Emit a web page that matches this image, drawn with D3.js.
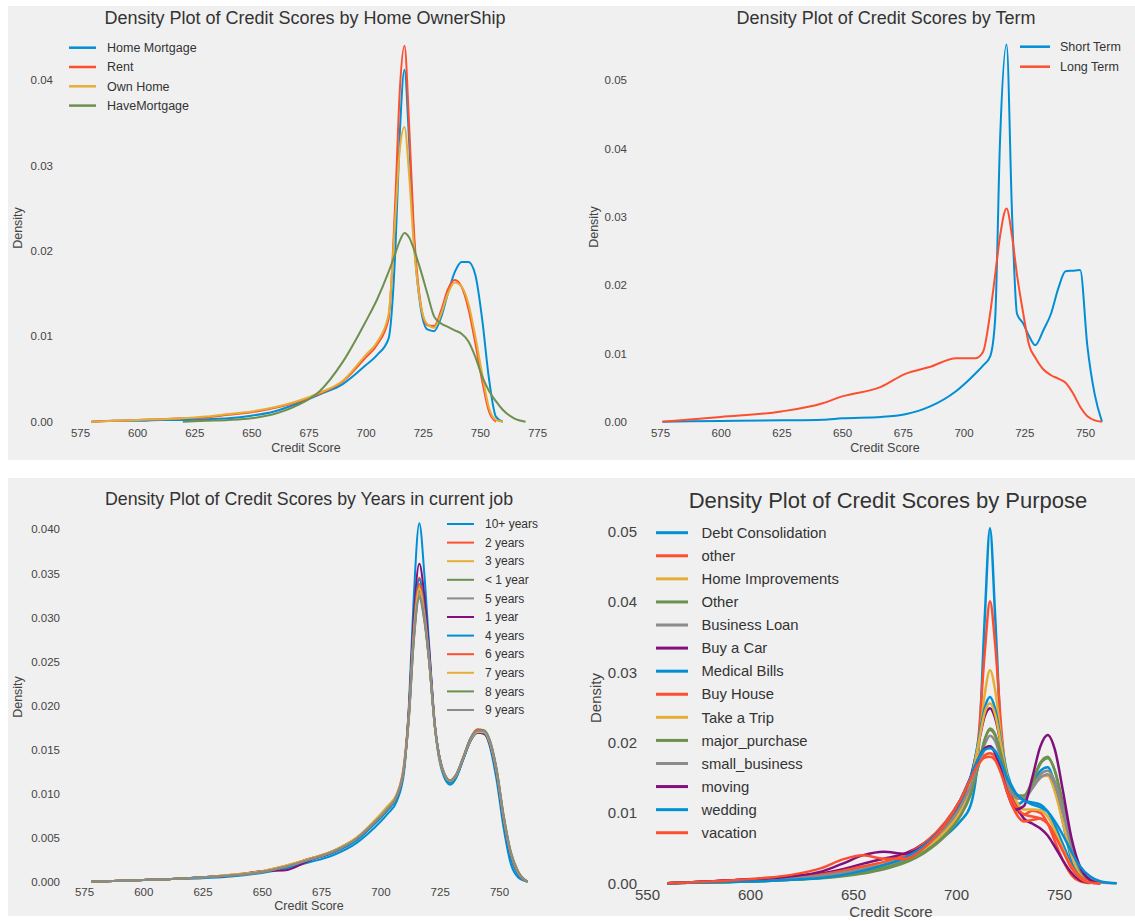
<!DOCTYPE html>
<html>
<head>
<meta charset="utf-8">
<script src="https://cdn.jsdelivr.net/npm/d3@7"></script>
<style>
  body { margin: 0; background: #ffffff; }
  svg { display: block; font-family: "Liberation Sans", Arial, Helvetica, sans-serif; }
</style>
</head>
<body>
<svg id="chart" width="1135" height="921"></svg>
<script>
// fivethirtyeight colour cycle
const palette = ["#008fd5", "#fc4f30", "#e5ae38", "#6d904f", "#8b8b8b", "#810f7c"];

// ---------- Home ownership ----------
const homeGrid = [580, 590, 600, 610, 620, 630, 640, 650, 660, 670, 680, 690, 700, 705, 710, 713, 715, 717, 719, 721, 724, 727, 730, 733, 736, 739, 742, 745, 748, 751, 754, 757, 760, 765, 770];
const homeNames = ["Home Mortgage", "Rent", "Own Home", "HaveMortgage"];
const homeMortgage = [0, 0.0001, 0.0001, 0.0002, 0.0002, 0.0003, 0.0004, 0.0007, 0.0012, 0.0021, 0.0032, 0.0044, 0.0066, 0.0078, 0.0097, 0.0200, 0.0340, 0.0412, 0.0330, 0.0220, 0.0135, 0.0108, 0.0106, 0.0122, 0.0150, 0.0175, 0.0187, 0.0187, 0.0172, 0.0120, 0.0050, 0.0006, 0, 0, 0];
const homeRent = [0, 0.0001, 0.0002, 0.0003, 0.0004, 0.0005, 0.0008, 0.0011, 0.0016, 0.0023, 0.0033, 0.0047, 0.0075, 0.0090, 0.0120, 0.0260, 0.0390, 0.0440, 0.0350, 0.0230, 0.0140, 0.0113, 0.0112, 0.0130, 0.0155, 0.0166, 0.0158, 0.0132, 0.0092, 0.0048, 0.0012, 0, 0, 0, 0];
const homeOwn = [0, 0.0001, 0.0002, 0.0003, 0.0004, 0.0006, 0.0009, 0.0012, 0.0017, 0.0024, 0.0034, 0.0048, 0.0078, 0.0093, 0.0125, 0.0240, 0.0320, 0.0345, 0.0290, 0.0210, 0.0138, 0.0114, 0.0110, 0.0126, 0.0150, 0.0163, 0.0158, 0.0138, 0.0100, 0.0056, 0.0016, 0.0002, 0, 0, 0];
const homeHaveMortgage = [0, 0, 0, 0, 0, 0.0001, 0.0002, 0.0004, 0.0009, 0.0019, 0.0036, 0.0070, 0.0117, 0.0143, 0.0175, 0.0197, 0.0212, 0.0221, 0.0216, 0.0203, 0.0178, 0.0150, 0.0123, 0.0115, 0.0111, 0.0107, 0.0103, 0.0094, 0.0076, 0.0053, 0.0036, 0.0024, 0.0014, 0.0004, 0];
const homeXTicks = [575, 600, 625, 650, 675, 700, 725, 750, 775];
const homeYTicks = [0, 0.01, 0.02, 0.03, 0.04];

// ---------- Term ----------
const termGrid = [576, 600, 625, 642, 650, 666, 676, 686, 697, 705, 708, 711, 713, 715, 717.7, 720, 722, 724.5, 727, 729.5, 733, 736, 739, 742, 745, 748, 751, 754, 757];
const termNames = ["Short Term", "Long Term"];
const termShort = [0, 0.0001, 0.0002, 0.0003, 0.0005, 0.0007, 0.0011, 0.0022, 0.0045, 0.0071, 0.0082, 0.0096, 0.0150, 0.0410, 0.0552, 0.0300, 0.0158, 0.0144, 0.0125, 0.0112, 0.0135, 0.0158, 0.0195, 0.0220, 0.0221, 0.0222, 0.0110, 0.0040, 0];
const termLong = [0, 0.0007, 0.0015, 0.0027, 0.0037, 0.0051, 0.0070, 0.0080, 0.0093, 0.0093, 0.0102, 0.0160, 0.0215, 0.0271, 0.0312, 0.0270, 0.0215, 0.0160, 0.0112, 0.0094, 0.0076, 0.0068, 0.0063, 0.0057, 0.0042, 0.0022, 0.0008, 0.0002, 0];
const termXTicks = [575, 600, 625, 650, 675, 700, 725, 750];
const termYTicks = [0, 0.01, 0.02, 0.03, 0.04, 0.05];

// ---------- Years in current job ----------
const jobGrid = [578, 590, 600, 612, 625, 637, 650, 660, 670, 680, 690, 697, 703, 707, 710, 712, 714, 716.4, 718.5, 720.5, 723, 726, 729.4, 732, 735, 738, 741, 743.5, 746, 749, 752, 755, 758, 762];
const jobNames = ["10+ years", "2 years", "3 years", "< 1 year", "5 years", "1 year", "4 years", "6 years", "7 years", "8 years", "9 years"];
const job10plus = [0, 0.0001, 0.0002, 0.0003, 0.0004, 0.0006, 0.0010, 0.0015, 0.0022, 0.0030, 0.0044, 0.0060, 0.0077, 0.0092, 0.0125, 0.0200, 0.0320, 0.0407, 0.0350, 0.0270, 0.0175, 0.0125, 0.0110, 0.0118, 0.0140, 0.0162, 0.0172, 0.0170, 0.0155, 0.0115, 0.0060, 0.0020, 0.0005, 0];
const job2 = [0, 0.0001, 0.0002, 0.0003, 0.0005, 0.0008, 0.0012, 0.0018, 0.0026, 0.0035, 0.0050, 0.0067, 0.0085, 0.0100, 0.0135, 0.0195, 0.0288, 0.0345, 0.0312, 0.0258, 0.0176, 0.0130, 0.0115, 0.0122, 0.0142, 0.0163, 0.0173, 0.0172, 0.0160, 0.0124, 0.0070, 0.0030, 0.0010, 0];
const job3 = [0, 0.0001, 0.0002, 0.0003, 0.0005, 0.0008, 0.0012, 0.0018, 0.0026, 0.0035, 0.0050, 0.0068, 0.0086, 0.0100, 0.0133, 0.0192, 0.0280, 0.0335, 0.0303, 0.0252, 0.0174, 0.0128, 0.0114, 0.0121, 0.0141, 0.0161, 0.0170, 0.0169, 0.0158, 0.0124, 0.0072, 0.0032, 0.0011, 0];
const jobUnder1 = [0, 0.0001, 0.0002, 0.0003, 0.0005, 0.0007, 0.0011, 0.0017, 0.0025, 0.0034, 0.0049, 0.0066, 0.0083, 0.0098, 0.0131, 0.0188, 0.0276, 0.0330, 0.0300, 0.0252, 0.0175, 0.0129, 0.0114, 0.0121, 0.0141, 0.0162, 0.0171, 0.0171, 0.0161, 0.0127, 0.0073, 0.0032, 0.0011, 0];
const job5 = [0, 0.0001, 0.0002, 0.0003, 0.0005, 0.0007, 0.0011, 0.0017, 0.0025, 0.0033, 0.0048, 0.0065, 0.0082, 0.0097, 0.0130, 0.0187, 0.0274, 0.0328, 0.0300, 0.0251, 0.0174, 0.0128, 0.0114, 0.0121, 0.0140, 0.0160, 0.0169, 0.0169, 0.0160, 0.0126, 0.0072, 0.0032, 0.0011, 0];
const job1 = [0, 0.0001, 0.0002, 0.0003, 0.0005, 0.0007, 0.0012, 0.0013, 0.0024, 0.0033, 0.0048, 0.0065, 0.0082, 0.0097, 0.0130, 0.0195, 0.0298, 0.0361, 0.0325, 0.0265, 0.0178, 0.0129, 0.0113, 0.0120, 0.0140, 0.0160, 0.0169, 0.0168, 0.0157, 0.0122, 0.0068, 0.0028, 0.0009, 0];
const job4 = [0, 0.0001, 0.0002, 0.0003, 0.0005, 0.0007, 0.0011, 0.0017, 0.0025, 0.0033, 0.0047, 0.0064, 0.0081, 0.0096, 0.0130, 0.0192, 0.0285, 0.0343, 0.0310, 0.0258, 0.0176, 0.0128, 0.0112, 0.0119, 0.0139, 0.0160, 0.0170, 0.0169, 0.0158, 0.0122, 0.0067, 0.0027, 0.0008, 0];
const job6 = [0, 0.0001, 0.0002, 0.0003, 0.0005, 0.0007, 0.0011, 0.0017, 0.0026, 0.0034, 0.0049, 0.0066, 0.0083, 0.0098, 0.0131, 0.0190, 0.0282, 0.0338, 0.0306, 0.0255, 0.0175, 0.0129, 0.0114, 0.0121, 0.0141, 0.0162, 0.0172, 0.0171, 0.0160, 0.0125, 0.0071, 0.0031, 0.0010, 0];
const job7 = [0, 0.0001, 0.0002, 0.0003, 0.0005, 0.0008, 0.0012, 0.0018, 0.0026, 0.0035, 0.0050, 0.0067, 0.0084, 0.0099, 0.0132, 0.0189, 0.0278, 0.0333, 0.0302, 0.0253, 0.0175, 0.0129, 0.0114, 0.0121, 0.0141, 0.0161, 0.0170, 0.0170, 0.0159, 0.0125, 0.0072, 0.0032, 0.0011, 0];
const job8 = [0, 0.0001, 0.0002, 0.0003, 0.0005, 0.0007, 0.0011, 0.0017, 0.0025, 0.0034, 0.0049, 0.0066, 0.0083, 0.0098, 0.0130, 0.0185, 0.0270, 0.0322, 0.0296, 0.0250, 0.0175, 0.0130, 0.0115, 0.0122, 0.0142, 0.0163, 0.0172, 0.0172, 0.0162, 0.0128, 0.0075, 0.0034, 0.0012, 0];
const job9 = [0, 0.0001, 0.0002, 0.0003, 0.0005, 0.0007, 0.0011, 0.0017, 0.0025, 0.0034, 0.0049, 0.0066, 0.0083, 0.0098, 0.0130, 0.0186, 0.0272, 0.0325, 0.0298, 0.0251, 0.0175, 0.0130, 0.0115, 0.0122, 0.0141, 0.0162, 0.0171, 0.0171, 0.0161, 0.0127, 0.0074, 0.0033, 0.0012, 0];
const jobXTicks = [575, 600, 625, 650, 675, 700, 725, 750];
const jobYTicks = [0, 0.005, 0.01, 0.015, 0.02, 0.025, 0.03, 0.035, 0.04];

// ---------- Purpose ----------
const purposeGrid = [560, 575, 590, 605, 620, 635, 645, 655, 665, 675, 685, 695, 702, 707, 711, 714, 716.5, 719, 722, 725, 729, 733, 737, 741, 744.5, 748, 752, 756, 760, 765, 770, 778];
const purposeNames = ["Debt Consolidation", "other", "Home Improvements", "Other", "Business Loan", "Buy a Car", "Medical Bills", "Buy House", "Take a Trip", "major_purchase", "small_business", "moving", "wedding", "vacation"];
const pDebt = [0, 0.0002, 0.0004, 0.0006, 0.0008, 0.0011, 0.0014, 0.0019, 0.0026, 0.0035, 0.0048, 0.0068, 0.0088, 0.0110, 0.0190, 0.0380, 0.0505, 0.0380, 0.0200, 0.0130, 0.0112, 0.0118, 0.0140, 0.0160, 0.0165, 0.0140, 0.0085, 0.0035, 0.0010, 0.0002, 0, 0];
const pOtherLower = [0, 0.0002, 0.0004, 0.0007, 0.0010, 0.0014, 0.0018, 0.0024, 0.0030, 0.0040, 0.0055, 0.0078, 0.0100, 0.0130, 0.0210, 0.0330, 0.0401, 0.0340, 0.0220, 0.0140, 0.0105, 0.0098, 0.0103, 0.0100, 0.0085, 0.0060, 0.0032, 0.0012, 0.0003, 0, 0, 0];
const pHomeImpr = [0, 0.0001, 0.0002, 0.0004, 0.0006, 0.0009, 0.0012, 0.0017, 0.0024, 0.0034, 0.0050, 0.0075, 0.0100, 0.0130, 0.0195, 0.0270, 0.0303, 0.0275, 0.0205, 0.0150, 0.0120, 0.0122, 0.0138, 0.0152, 0.0153, 0.0130, 0.0085, 0.0040, 0.0013, 0.0002, 0, 0];
const pOtherUpper = [0, 0.0001, 0.0002, 0.0003, 0.0005, 0.0008, 0.0011, 0.0016, 0.0022, 0.0032, 0.0048, 0.0072, 0.0098, 0.0128, 0.0170, 0.0205, 0.0218, 0.0210, 0.0180, 0.0148, 0.0125, 0.0125, 0.0145, 0.0172, 0.0180, 0.0160, 0.0110, 0.0055, 0.0020, 0.0004, 0, 0];
const pBusiness = [0, 0.0002, 0.0003, 0.0005, 0.0008, 0.0012, 0.0016, 0.0021, 0.0027, 0.0036, 0.0052, 0.0078, 0.0102, 0.0130, 0.0168, 0.0198, 0.0210, 0.0202, 0.0175, 0.0145, 0.0125, 0.0122, 0.0135, 0.0150, 0.0155, 0.0140, 0.0100, 0.0052, 0.0020, 0.0004, 0, 0];
const pCar = [0, 0.0002, 0.0004, 0.0006, 0.0009, 0.0014, 0.0020, 0.0028, 0.0035, 0.0042, 0.0058, 0.0085, 0.0115, 0.0150, 0.0200, 0.0238, 0.0249, 0.0235, 0.0195, 0.0150, 0.0112, 0.0092, 0.0085, 0.0078, 0.0068, 0.0052, 0.0032, 0.0015, 0.0005, 0.0001, 0, 0];
const pMedical = [0, 0.0001, 0.0002, 0.0004, 0.0006, 0.0010, 0.0014, 0.0020, 0.0028, 0.0038, 0.0055, 0.0082, 0.0110, 0.0145, 0.0205, 0.0250, 0.0265, 0.0248, 0.0200, 0.0155, 0.0128, 0.0118, 0.0115, 0.0112, 0.0102, 0.0082, 0.0055, 0.0028, 0.0010, 0.0002, 0, 0];
const pHouse = [0, 0.0002, 0.0004, 0.0006, 0.0009, 0.0013, 0.0018, 0.0024, 0.0030, 0.0040, 0.0058, 0.0088, 0.0118, 0.0145, 0.0170, 0.0182, 0.0185, 0.0180, 0.0160, 0.0135, 0.0110, 0.0098, 0.0095, 0.0092, 0.0085, 0.0070, 0.0048, 0.0025, 0.0010, 0.0002, 0, 0];
const pTrip = [0, 0.0001, 0.0002, 0.0004, 0.0007, 0.0010, 0.0014, 0.0020, 0.0027, 0.0036, 0.0050, 0.0075, 0.0102, 0.0140, 0.0200, 0.0243, 0.0256, 0.0240, 0.0195, 0.0150, 0.0118, 0.0105, 0.0105, 0.0104, 0.0095, 0.0075, 0.0048, 0.0022, 0.0008, 0.0001, 0, 0];
const pMajor = [0, 0.0001, 0.0002, 0.0003, 0.0005, 0.0007, 0.0010, 0.0014, 0.0020, 0.0029, 0.0044, 0.0068, 0.0095, 0.0125, 0.0168, 0.0205, 0.0220, 0.0212, 0.0182, 0.0148, 0.0122, 0.0120, 0.0142, 0.0170, 0.0178, 0.0160, 0.0112, 0.0058, 0.0022, 0.0005, 0, 0];
const pSmall = [0, 0.0002, 0.0003, 0.0005, 0.0007, 0.0011, 0.0015, 0.0020, 0.0026, 0.0035, 0.0052, 0.0080, 0.0108, 0.0138, 0.0170, 0.0190, 0.0195, 0.0188, 0.0165, 0.0140, 0.0122, 0.0120, 0.0135, 0.0155, 0.0160, 0.0145, 0.0105, 0.0058, 0.0024, 0.0006, 0.0001, 0];
const pMoving = [0, 0.0002, 0.0004, 0.0006, 0.0010, 0.0017, 0.0028, 0.0040, 0.0045, 0.0042, 0.0055, 0.0085, 0.0118, 0.0150, 0.0178, 0.0192, 0.0195, 0.0185, 0.0160, 0.0128, 0.0105, 0.0110, 0.0150, 0.0195, 0.0211, 0.0190, 0.0130, 0.0065, 0.0025, 0.0005, 0, 0];
const pWedding = [0, 0.0001, 0.0002, 0.0003, 0.0005, 0.0008, 0.0012, 0.0018, 0.0026, 0.0036, 0.0055, 0.0085, 0.0118, 0.0150, 0.0178, 0.0190, 0.0192, 0.0188, 0.0170, 0.0148, 0.0128, 0.0118, 0.0112, 0.0108, 0.0102, 0.0088, 0.0068, 0.0045, 0.0025, 0.0010, 0.0003, 0];
const pVacation = [0, 0.0002, 0.0004, 0.0007, 0.0012, 0.0022, 0.0034, 0.0040, 0.0035, 0.0035, 0.0052, 0.0085, 0.0118, 0.0148, 0.0170, 0.0179, 0.0180, 0.0175, 0.0155, 0.0128, 0.0100, 0.0088, 0.0090, 0.0092, 0.0085, 0.0068, 0.0045, 0.0022, 0.0008, 0.0001, 0, 0];
const purposeXTicks = [550, 600, 650, 700, 750];
const purposeYTicks = [0, 0.01, 0.02, 0.03, 0.04, 0.05];

// ---------- layout of the four axes ----------
const panels = [
  {
    title: "Density Plot of Credit Scores by Home OwnerShip",
    titleX: 305, titleY: 24, titleSize: 18,
    xDomain: [575, 775], xRange: [80, 537],
    yDomain: [0, 0.04], yRange: [421.7, 80],
    xTicks: homeXTicks, yTicks: homeYTicks, yFmt: ".2f",
    tickSize: 11.5, xPad: 7, yLabelRight: 53,
    xLabel: [306, 448], yLabel: [18, 228], labelSize: 12.5,
    grid: homeGrid, names: homeNames,
    values: [homeMortgage, homeRent, homeOwn, homeHaveMortgage],
    lineWidth: 2,
    legend: { x1: 69, x2: 96, tx: 107, y0: 47.7, dy: 19.3, size: 12.5, lw: 2.5 }
  },
  {
    title: "Density Plot of Credit Scores by Term",
    titleX: 886, titleY: 24, titleSize: 18,
    xDomain: [575, 750], xRange: [660, 1085],
    yDomain: [0, 0.05], yRange: [421.7, 80],
    xTicks: termXTicks, yTicks: termYTicks, yFmt: ".2f",
    tickSize: 11.5, xPad: 7.5, yLabelRight: 627,
    xLabel: [885, 448], yLabel: [594, 227], labelSize: 12.5,
    grid: termGrid, names: termNames,
    values: [termShort, termLong],
    lineWidth: 2,
    legend: { x1: 1020, x2: 1050, tx: 1060, y0: 46.7, dy: 20, size: 12.5, lw: 2.5 }
  },
  {
    title: "Density Plot of Credit Scores by Years in current job",
    titleX: 309, titleY: 505, titleSize: 17.8,
    xDomain: [575, 750], xRange: [84, 499],
    yDomain: [0, 0.04], yRange: [881.7, 529.3],
    xTicks: jobXTicks, yTicks: jobYTicks, yFmt: ".3f",
    tickSize: 11.5, xPad: 6, yLabelRight: 60,
    xLabel: [309, 906], yLabel: [18, 697], labelSize: 12.5,
    grid: jobGrid, names: jobNames,
    values: [job10plus, job2, job3, jobUnder1, job5, job1, job4, job6, job7, job8, job9],
    lineWidth: 2,
    legend: { x1: 447, x2: 474, tx: 485, y0: 524, dy: 18.6, size: 12, lw: 2 }
  },
  {
    title: "Density Plot of Credit Scores by Purpose",
    titleX: 888, titleY: 507.5, titleSize: 22,
    xDomain: [550, 750], xRange: [647, 1059],
    yDomain: [0, 0.05], yRange: [883.3, 531.7],
    xTicks: purposeXTicks, yTicks: purposeYTicks, yFmt: ".2f",
    tickSize: 15, xPad: 6.4, yLabelRight: 637,
    xLabel: [891, 912], yLabel: [596, 698], labelSize: 15,
    grid: purposeGrid, names: purposeNames,
    values: [pDebt, pOtherLower, pHomeImpr, pOtherUpper, pBusiness, pCar, pMedical, pHouse, pTrip, pMajor, pSmall, pMoving, pWedding, pVacation],
    lineWidth: 2.5,
    legend: { x1: 656, x2: 688, tx: 701.5, y0: 532.7, dy: 23.08, size: 14.8, lw: 3 }
  }
];

const svg = d3.select("#chart");

// figure backgrounds (two rows of axes)
svg.append("rect").attr("x", 8).attr("y", 6).attr("width", 1127).attr("height", 454).attr("fill", "#f0f0f0");
svg.append("rect").attr("x", 8).attr("y", 478).attr("width", 1127).attr("height", 438).attr("fill", "#f0f0f0");

// keep a curve only where its density is defined (trim zero runs at both ends)
function trimmed(grid, vals) {
  let first = vals.findIndex(v => v > 0);
  let last = vals.length - 1 - [...vals].reverse().findIndex(v => v > 0);
  first = Math.max(0, first - 1);
  last = Math.min(vals.length - 1, last + 1);
  const pts = [];
  for (let i = first; i <= last; i++) pts.push([grid[i], vals[i]]);
  return pts;
}

panels.forEach(p => {
  const g = svg.append("g");
  const x = d3.scaleLinear().domain(p.xDomain).range(p.xRange);
  const y = d3.scaleLinear().domain(p.yDomain).range(p.yRange);

  // x axis
  const xa = g.append("g")
    .attr("transform", `translate(0,${y(0)})`)
    .call(d3.axisBottom(x).tickValues(p.xTicks).tickSize(0).tickPadding(p.xPad).tickFormat(d3.format("d")));
  xa.select(".domain").remove();
  xa.selectAll("text").attr("font-size", p.tickSize).attr("fill", "#444").attr("font-family", null);

  // y axis
  const ya = g.append("g")
    .attr("transform", `translate(${p.yLabelRight + 3},0)`)
    .call(d3.axisLeft(y).tickValues(p.yTicks).tickSize(0).tickPadding(3).tickFormat(d3.format(p.yFmt)));
  ya.select(".domain").remove();
  ya.selectAll("text").attr("font-size", p.tickSize).attr("fill", "#444").attr("font-family", null);

  // axis titles
  g.append("text").attr("x", p.xLabel[0]).attr("y", p.xLabel[1]).attr("dy", "0.35em")
    .attr("text-anchor", "middle").attr("font-size", p.labelSize).attr("fill", "#444").text("Credit Score");
  g.append("text").attr("transform", `translate(${p.yLabel[0]},${p.yLabel[1]}) rotate(-90)`).attr("dy", "0.35em")
    .attr("text-anchor", "middle").attr("font-size", p.labelSize).attr("fill", "#444").text("Density");

  // plot title
  g.append("text").attr("x", p.titleX).attr("y", p.titleY).attr("text-anchor", "middle")
    .attr("font-size", p.titleSize).attr("fill", "#333").text(p.title);

  // density curves
  const line = d3.line().x(d => x(d[0])).y(d => y(d[1])).curve(d3.curveMonotoneX);
  p.values.forEach((vals, i) => {
    g.append("path")
      .datum(trimmed(p.grid, vals))
      .attr("d", line)
      .attr("fill", "none")
      .attr("stroke", palette[i % palette.length])
      .attr("stroke-width", p.lineWidth)
      .attr("stroke-linejoin", "round");
  });

  // legend
  const L = p.legend;
  p.names.forEach((name, i) => {
    const yy = L.y0 + i * L.dy;
    g.append("line").attr("x1", L.x1).attr("x2", L.x2).attr("y1", yy).attr("y2", yy)
      .attr("stroke", palette[i % palette.length]).attr("stroke-width", L.lw);
    g.append("text").attr("x", L.tx).attr("y", yy).attr("dy", "0.35em")
      .attr("font-size", L.size).attr("fill", "#333").text(name);
  });
});
</script>
</body>
</html>
